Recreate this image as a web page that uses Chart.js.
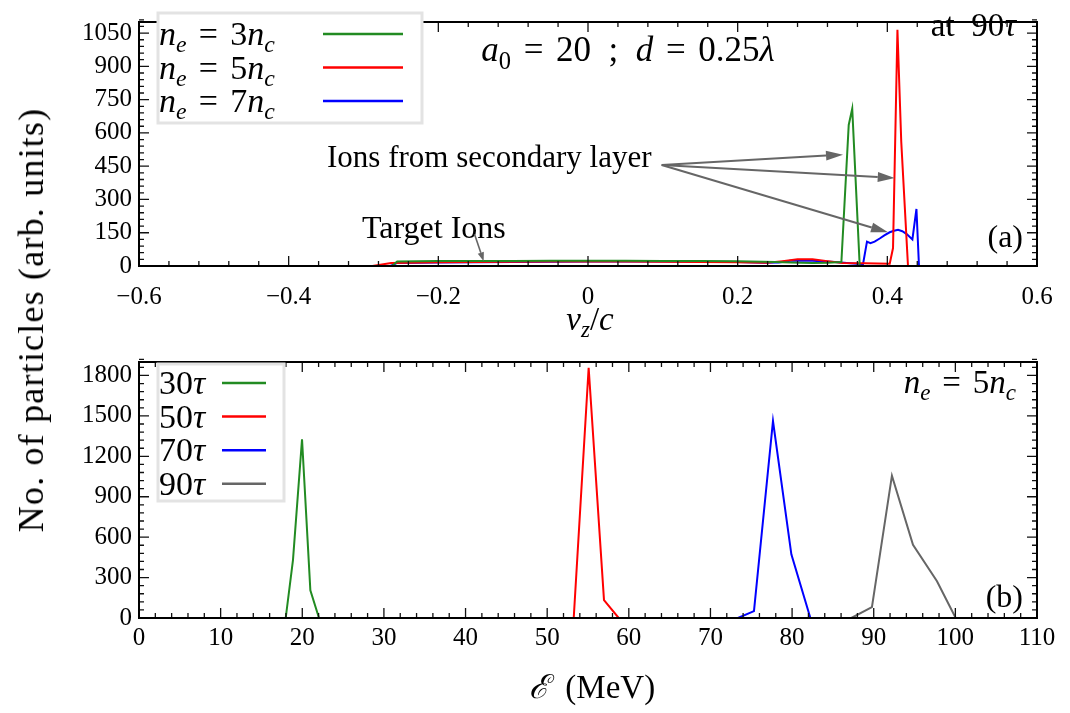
<!DOCTYPE html>
<html>
<head>
<meta charset="utf-8">
<script src="https://cdn.jsdelivr.net/npm/chart.js@4.4.0/dist/chart.umd.min.js"></script>
<style>
  body { margin: 0; background: #fff; width: 1070px; height: 713px; overflow: hidden; position: relative; }
  #chartA { position: absolute; left: 0; top: 0; }
  #chartB { position: absolute; left: 0; top: 340px; }
  #ylab {
    position: absolute; left: 31px; top: 320px;
    transform: translate(-50%, -50%) rotate(-90deg);
    font: 36px "Liberation Serif", serif; letter-spacing: 1.2px; white-space: nowrap; color: #000;
  }
</style>
</head>
<body>
<canvas id="chartA" width="1070" height="340"></canvas>
<canvas id="chartB" width="1070" height="373"></canvas>
<div id="ylab">No. of particles (arb. units)</div>
<script>
// ---- panel (a): longitudinal velocity spectra at 90 tau ----
const vzTicks = [-0.6, -0.4, -0.2, 0, 0.2, 0.4, 0.6];
const countTicksA = [0, 150, 300, 450, 600, 750, 900, 1050];

// ne = 3nc
const vz3 = [-0.6, -0.262, -0.255, -0.2, -0.15, -0.1, -0.05, 0, 0.05, 0.1, 0.15, 0.2, 0.25, 0.27, 0.30, 0.32,
             0.3386, 0.3484, 0.3531, 0.3631, 0.38, 0.6];
const n3  = [0, 0, 20, 22, 23, 23, 24, 24, 24, 23, 22, 21, 18, 16, 14, 15,
             18, 636, 709, 0, 0, 0];
// ne = 5nc
const vz5 = [-0.6, -0.288, -0.263, -0.2, -0.15, -0.1, -0.05, 0, 0.05, 0.1, 0.15, 0.2, 0.24, 0.26, 0.28, 0.30,
             0.32, 0.34, 0.37, 0.4032, 0.4076, 0.4135, 0.4186, 0.4276, 0.6];
const n5  = [0, 0, 14, 17, 18, 19, 20, 20, 20, 19, 18, 17, 15, 22, 30, 30,
             22, 14, 12, 10, 81, 1065, 560, 0, 0];
// ne = 7nc
const vz7 = [-0.6, -0.264, -0.255, -0.2, -0.15, -0.1, -0.05, 0, 0.05, 0.1, 0.15, 0.2, 0.235, 0.255, 0.27, 0.30,
             0.33, 0.35, 0.3675, 0.3728, 0.3774, 0.383, 0.3898, 0.396, 0.4032, 0.409, 0.4143, 0.420, 0.4259,
             0.4335, 0.4389, 0.4423, 0.6];
const n7  = [0, 0, 14, 16, 17, 18, 19, 20, 20, 20, 19, 18, 15, 16, 24, 24,
             18, 12, 8, 110, 103, 110, 124, 138, 152, 159, 163, 157, 144,
             120, 257, 0, 0];

// ---- panel (b): energy spectra for ne = 5nc ----
const energyTicks = [0, 10, 20, 30, 40, 50, 60, 70, 80, 90, 100, 110];
const countTicksB = [0, 300, 600, 900, 1200, 1500, 1800];

const e30 = [0, 17.97, 18.86, 19.97, 20.99, 22.05, 110];
const n30 = [0, 0, 430, 1327, 205, 0, 0];
const e50 = [0, 53.25, 55.08, 56.96, 58.76, 110];
const n50 = [0, 0, 1857, 133, 0, 0];
const e70 = [0, 73.37, 75.33, 77.66, 79.91, 82.24, 110];
const n70 = [0, 0, 51, 1462, 473, 0, 0];
const e90 = [0, 87.26, 89.78, 92.23, 94.81, 97.75, 100.04, 110];
const n90 = [0, 0, 80, 1056, 543, 273, 0, 0];

const GREEN = '#228b22', RED = '#ff0000', BLUE = '#0000ff', GRAY = '#666666';
const SERIF = '"Liberation Serif", "DejaVu Serif", serif';

function pts(xs, ys) { return xs.map((x, i) => ({ x: x, y: ys[i] })); }

function series(label, xs, ys, color) {
  return { label: label, data: pts(xs, ys), borderColor: color, borderWidth: 2,
           pointRadius: 0, tension: 0, fill: false };
}

// math-ish text: [text, kind], kind r = roman, i = italic, b = italic subscript,
// rb = roman subscript, op = operator with thick spaces
function mathText(ctx, parts, x, y, size, align) {
  const items = parts.map(function (p) {
    const t = p[0], k = p[1];
    const sub = (k === 'b' || k === 'rb');
    const fs = sub ? size * 0.7 : size;
    const font = ((k === 'i' || k === 'b') ? 'italic ' : '') + fs + 'px ' + SERIF;
    ctx.font = font;
    const pad = k === 'op' ? size * 0.36 : 0;
    return { t: t, font: font, pad: pad, w: ctx.measureText(t).width + 2 * pad, dy: sub ? size * 0.22 : 0 };
  });
  const total = items.reduce(function (s, it) { return s + it.w; }, 0);
  let cx = align === 'center' ? x - total / 2 : (align === 'right' ? x - total : x);
  ctx.textAlign = 'left';
  ctx.textBaseline = 'alphabetic';
  items.forEach(function (it) {
    ctx.font = it.font;
    ctx.fillText(it.t, cx + it.pad, y + it.dy);
    cx += it.w;
  });
}

function arrow(ctx, x0, y0, x1, y1, L, W) {
  const a = Math.atan2(y1 - y0, x1 - x0);
  const bx = x1 - L * Math.cos(a), by = y1 - L * Math.sin(a);
  ctx.beginPath(); ctx.moveTo(x0, y0); ctx.lineTo(bx, by); ctx.stroke();
  ctx.beginPath();
  ctx.moveTo(x1, y1);
  ctx.lineTo(bx - W * Math.sin(a), by + W * Math.cos(a));
  ctx.lineTo(bx + W * Math.sin(a), by - W * Math.cos(a));
  ctx.closePath(); ctx.fill();
}

function legendBox(ctx, x, y, w, h) {
  ctx.save();
  ctx.fillStyle = '#fff';
  ctx.strokeStyle = '#e3e3e3';
  ctx.lineWidth = 3;
  ctx.fillRect(x, y, w, h);
  ctx.strokeRect(x, y, w, h);
  ctx.restore();
}

function legendLine(ctx, x0, x1, y, color) {
  ctx.save();
  ctx.strokeStyle = color; ctx.lineWidth = 2.5;
  ctx.beginPath(); ctx.moveTo(x0, y); ctx.lineTo(x1, y); ctx.stroke();
  ctx.restore();
}

// frame + inward major/minor ticks on all four sides
const frameTicks = {
  id: 'frameTicks',
  afterDatasetsDraw(chart, args, opts) {
    const ctx = chart.ctx, a = chart.chartArea, sx = chart.scales.x, sy = chart.scales.y;
    ctx.save();
    ctx.strokeStyle = '#111';
    ctx.lineWidth = 1.3;
    function marks(scale, major, horizontal) {
      const step = major / 5;
      const n = Math.round((scale.max - scale.min) / step);
      for (let i = 0; i <= n; i++) {
        const v = scale.min + i * step;
        const isMajor = Math.abs(v / major - Math.round(v / major)) < 1e-6;
        const len = isMajor ? 10 : 5;
        const p = scale.getPixelForValue(v);
        ctx.beginPath();
        if (horizontal) {
          ctx.moveTo(p, a.bottom); ctx.lineTo(p, a.bottom - len);
          ctx.moveTo(p, a.top); ctx.lineTo(p, a.top + len);
        } else {
          ctx.moveTo(a.left, p); ctx.lineTo(a.left + len, p);
          ctx.moveTo(a.right, p); ctx.lineTo(a.right - len, p);
        }
        ctx.stroke();
      }
    }
    marks(sx, opts.xMajor, true);
    marks(sy, opts.yMajor, false);
    ctx.strokeStyle = '#000';
    ctx.lineWidth = 2;
    ctx.strokeRect(a.left, a.top, a.right - a.left, a.bottom - a.top);
    ctx.restore();
  }
};

function fixedTicks(list) {
  return function (scale) { scale.ticks = list.map(function (v) { return { value: v }; }); };
}

function minusLabel(digits) {
  return function (v) {
    if (Math.abs(v) < 1e-9) return '0';
    return (v < 0 ? '\u2212' : '') + Math.abs(v).toFixed(digits);
  };
}

function axes(xmin, xmax, xTicks, xDigits, xPad, xHeight, ymax, yTicks) {
  const tickFont = { family: SERIF, size: 25 };
  return {
    x: {
      type: 'linear', min: xmin, max: xmax,
      grid: { display: false, drawTicks: false }, border: { display: false },
      afterBuildTicks: fixedTicks(xTicks),
      afterFit: function (s) { s.height = xHeight; },
      ticks: { font: tickFont, color: '#000', padding: xPad, maxRotation: 0, autoSkip: false,
               callback: minusLabel(xDigits) }
    },
    y: {
      min: 0, max: ymax,
      grid: { display: false, drawTicks: false }, border: { display: false },
      afterBuildTicks: fixedTicks(yTicks),
      afterFit: function (s) { s.width = 139; },
      ticks: { font: tickFont, color: '#000', padding: 7, autoSkip: false,
               callback: function (v) { return String(v); } }
    }
  };
}

// annotations for panel (a)
const decorA = {
  id: 'decorA',
  afterDraw(chart) {
    const ctx = chart.ctx, sx = chart.scales.x, sy = chart.scales.y;
    ctx.save();
    ctx.fillStyle = '#000';

    legendBox(ctx, 158, 13, 264, 110);
    const rowsA = [['3', GREEN], ['5', RED], ['7', BLUE]];
    rowsA.forEach(function (r, i) {
      const base = 45 + i * 33.5;
      mathText(ctx, [['n', 'i'], ['e', 'b'], ['=', 'op'], [r[0], 'r'], ['n', 'i'], ['c', 'b']], 159, base, 34, 'left');
      legendLine(ctx, 323, 403, base - 11, r[1]);
    });

    mathText(ctx, [['a', 'i'], ['0', 'rb'], ['=', 'op'], ['20', 'r'], ['\u2002;\u2002', 'r'],
                   ['d', 'i'], ['=', 'op'], ['0.25', 'r'], ['\u03bb', 'i']], 628, 61, 35, 'center');
    mathText(ctx, [['at\u200290', 'r'], ['\u03c4', 'i']], 1016, 36, 33, 'right');
    mathText(ctx, [['(a)', 'r']], 1023, 247, 32, 'right');
    mathText(ctx, [['Ions from secondary layer', 'r']], 327, 167, 31, 'left');
    mathText(ctx, [['Target Ions', 'r']], 362, 238, 32, 'left');
    mathText(ctx, [['v', 'i'], ['z', 'b'], ['/', 'r'], ['c', 'i']], 590, 330, 33, 'center');

    ctx.strokeStyle = GRAY; ctx.fillStyle = GRAY; ctx.lineWidth = 2;
    const fx = sx.getPixelForValue(0.0985), fy = sy.getPixelForValue(455);
    [[0.3408, 502], [0.4099, 397], [0.4009, 152]].forEach(function (t) {
      arrow(ctx, fx, fy, sx.getPixelForValue(t[0]), sy.getPixelForValue(t[1]), 17, 5);
    });
    ctx.lineWidth = 1.6;
    arrow(ctx, sx.getPixelForValue(-0.1516), sy.getPixelForValue(143),
          sx.getPixelForValue(-0.1394), sy.getPixelForValue(21), 9, 3.2);
    ctx.restore();
  }
};

// annotations for panel (b)
const decorB = {
  id: 'decorB',
  afterDraw(chart) {
    const ctx = chart.ctx;
    ctx.save();
    ctx.fillStyle = '#000';
    legendBox(ctx, 158, 24, 126, 137);
    const rowsB = [['30', GREEN], ['50', RED], ['70', BLUE], ['90', GRAY]];
    rowsB.forEach(function (r, i) {
      const base = 54 + i * 33.6;
      mathText(ctx, [[r[0], 'r'], ['\u03c4', 'i']], 159, base, 34, 'left');
      legendLine(ctx, 222, 266, base - 11, r[1]);
    });
    mathText(ctx, [['n', 'i'], ['e', 'b'], ['=', 'op'], ['5', 'r'], ['n', 'i'], ['c', 'b']], 1016, 53, 33, 'right');
    mathText(ctx, [['(b)', 'r']], 1023, 267, 32, 'right');
    mathText(ctx, [['\u2130', 'i'], ['\u2002(MeV)', 'r']], 592, 358, 33, 'center');
    ctx.restore();
  }
};

const common = {
  responsive: false,
  animation: false,
  events: [],
  plugins: { legend: { display: false }, tooltip: { enabled: false } }
};

new Chart(document.getElementById('chartA'), {
  type: 'line',
  data: {
    datasets: [
      series('ne = 3nc', vz3, n3, GREEN),
      series('ne = 5nc', vz5, n5, RED),
      series('ne = 7nc', vz7, n7, BLUE)
    ]
  },
  options: Object.assign({}, common, {
    layout: { padding: { top: 5, right: 33, left: 0, bottom: 0 } },
    scales: axes(-0.6, 0.6, vzTicks, 1, 16, 74, 1100, countTicksA),
    plugins: Object.assign({}, common.plugins, { frameTicks: { xMajor: 0.2, yMajor: 150 } })
  }),
  plugins: [frameTicks, decorA]
});

new Chart(document.getElementById('chartB'), {
  type: 'line',
  data: {
    datasets: [
      series('30tau', e30, n30, GREEN),
      series('50tau', e50, n50, RED),
      series('70tau', e70, n70, BLUE),
      series('90tau', e90, n90, GRAY)
    ]
  },
  options: Object.assign({}, common, {
    layout: { padding: { top: 16, right: 33, left: 0, bottom: 0 } },
    scales: axes(0, 110, energyTicks, 0, 5, 95, 1900, countTicksB),
    plugins: Object.assign({}, common.plugins, { frameTicks: { xMajor: 10, yMajor: 300 } })
  }),
  plugins: [frameTicks, decorB]
});
</script>
</body>
</html>
